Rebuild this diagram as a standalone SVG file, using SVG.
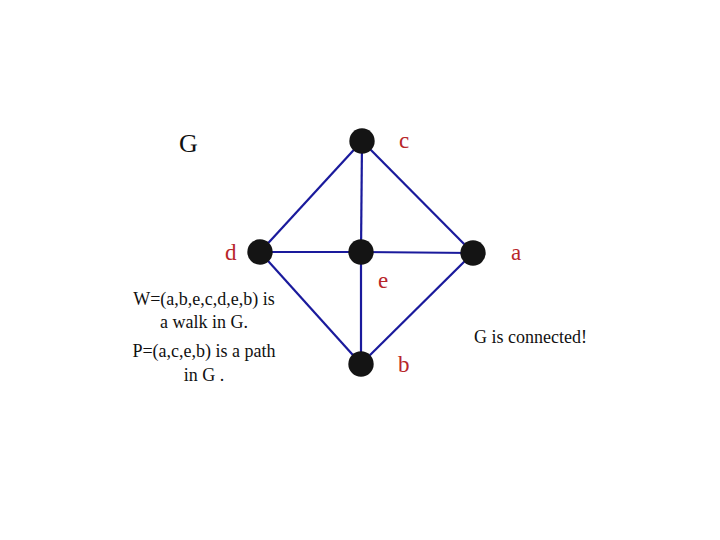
<svg xmlns="http://www.w3.org/2000/svg" width="720" height="540" viewBox="0 0 720 540">
<style>
.e{stroke:#1a1a9c;stroke-width:2.2;fill:none}
.n{fill:#141414}
.lbl{font-family:"Liberation Serif",serif;font-size:23px;fill:#b8262a}
.t{font-family:"Liberation Serif",serif;font-size:18px;fill:#111}
</style>
<rect width="720" height="540" fill="#fff"/>
<g id="connectors">
<line class="e" x1="362" y1="141" x2="260" y2="252"/>
<line class="e" x1="362" y1="141" x2="361" y2="252"/>
<line class="e" x1="362" y1="141" x2="473" y2="253"/>
<line class="e" x1="260" y1="252" x2="361" y2="252"/>
<line class="e" x1="361" y1="252" x2="473" y2="253"/>
<line class="e" x1="361" y1="252" x2="361" y2="364"/>
<line class="e" x1="260" y1="252" x2="361" y2="364"/>
<line class="e" x1="473" y1="253" x2="361" y2="364"/>
</g>
<g id="c"><circle class="n" cx="362" cy="141" r="12.7"/><text class="lbl" x="399" y="148">c</text></g>
<g id="d"><circle class="n" cx="260" cy="252" r="12.7"/><text class="lbl" x="225" y="260">d</text></g>
<g id="e"><circle class="n" cx="361" cy="252" r="12.7"/><text class="lbl" x="378" y="288">e</text></g>
<g id="a"><circle class="n" cx="473" cy="253" r="12.7"/><text class="lbl" x="511" y="260">a</text></g>
<g id="b"><circle class="n" cx="361" cy="364" r="12.7"/><text class="lbl" x="398" y="372">b</text></g>
<text x="179" y="152" style="font-family:'Liberation Serif',serif;font-size:26px;fill:#111">G</text>
<g id="notes" class="t" text-anchor="middle">
<text x="204" y="305">W=(a,b,e,c,d,e,b) is</text>
<text x="204" y="328">a walk in G.</text>
<text x="204" y="357">P=(a,c,e,b) is a path</text>
<text x="204" y="381">in G .</text>
</g>
<text class="t" x="474" y="343">G is connected!</text>
</svg>
